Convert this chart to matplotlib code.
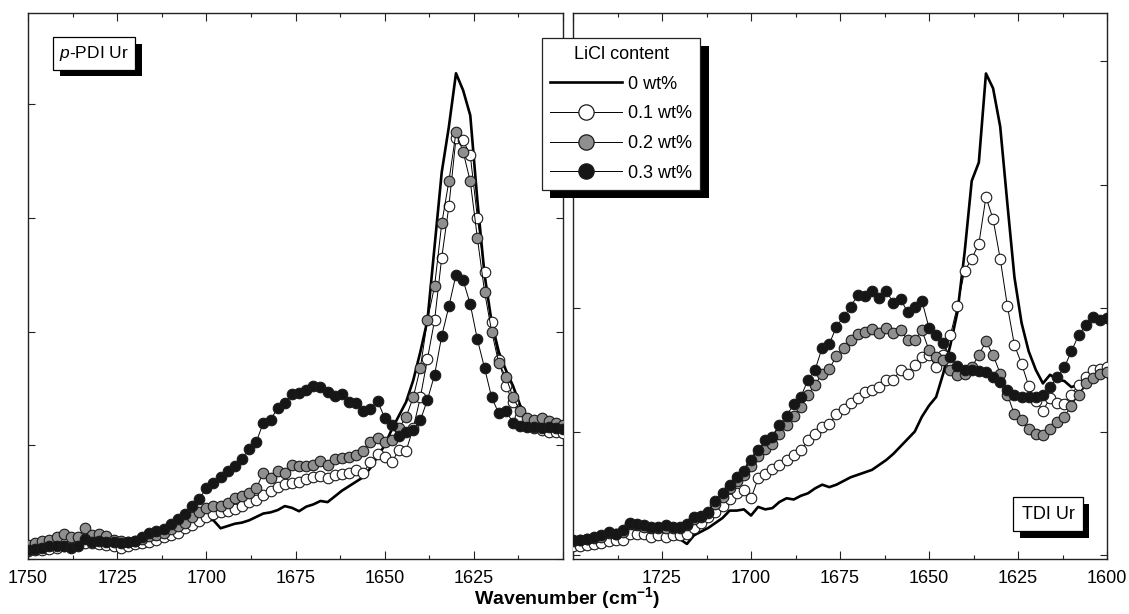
import numpy as np
import matplotlib
matplotlib.use('Agg')
import matplotlib.pyplot as plt
import matplotlib.patheffects as pe
from matplotlib.lines import Line2D
from matplotlib.ticker import MultipleLocator

plt.rcParams['font.family'] = ['Liberation Sans', 'DejaVu Sans']
plt.rcParams['mathtext.fontset'] = 'custom'
plt.rcParams['mathtext.rm'] = 'Liberation Sans'
plt.rcParams['mathtext.it'] = 'Liberation Sans:italic'
plt.rcParams['mathtext.bf'] = 'Liberation Sans:bold'

# wavenumber grid (cm-1), 1750 -> 1600
wavenumber = np.arange(1750, 1599, -2)

series_labels = ['0 wt%', '0.1 wt%', '0.2 wt%', '0.3 wt%']
marker_faces = ['white', '#8f8f8f', '#161616']

# p-PDI Ur (left panel)
ppdi_0 = [0.05, 0.06, 0.06, 0.07, 0.08, 0.09, 0.10, 0.11, 0.12, 0.12,
          0.11, 0.10, 0.09, 0.09, 0.10, 0.11, 0.12, 0.13, 0.15, 0.17,
          0.19, 0.21, 0.24, 0.28, 0.31, 0.35, 0.34, 0.27, 0.29, 0.31,
          0.32, 0.34, 0.37, 0.40, 0.41, 0.43, 0.465, 0.45, 0.42, 0.46,
          0.48, 0.51, 0.50, 0.55, 0.60, 0.64, 0.68, 0.72, 0.80, 0.90,
          1.00, 1.14, 1.26, 1.38, 1.57, 1.82, 2.10, 2.75, 3.40, 3.80,
          4.27, 4.12, 3.90, 3.15, 2.50, 2.08, 1.82, 1.66, 1.52, 1.35,
          1.25, 1.21, 1.19, 1.18, 1.17, 1.16]
ppdi_01 = [0.07, 0.08, 0.08, 0.09, 0.10, 0.11, 0.12, 0.13, 0.14, 0.14,
           0.13, 0.12, 0.11, 0.10, 0.11, 0.13, 0.14, 0.15, 0.17, 0.19,
           0.21, 0.23, 0.27, 0.30, 0.33, 0.37, 0.40, 0.41, 0.42, 0.44,
           0.47, 0.50, 0.52, 0.56, 0.60, 0.63, 0.655, 0.67, 0.68, 0.70,
           0.72, 0.73, 0.71, 0.74, 0.75, 0.76, 0.78, 0.76, 0.85, 0.92,
           0.90, 0.85, 0.96, 0.95, 1.15, 1.42, 1.76, 2.10, 2.65, 3.10,
           3.70, 3.68, 3.55, 3.00, 2.52, 2.08, 1.75, 1.52, 1.38, 1.25,
           1.18, 1.15, 1.13, 1.12, 1.12, 1.11]
ppdi_02 = [0.12, 0.14, 0.16, 0.17, 0.19, 0.22, 0.19, 0.19, 0.27, 0.21,
           0.22, 0.20, 0.17, 0.16, 0.15, 0.16, 0.18, 0.20, 0.21, 0.23,
           0.26, 0.29, 0.32, 0.37, 0.41, 0.45, 0.47, 0.47, 0.49, 0.54,
           0.55, 0.58, 0.62, 0.76, 0.71, 0.77, 0.76, 0.83, 0.82, 0.82,
           0.83, 0.86, 0.83, 0.88, 0.89, 0.90, 0.91, 0.95, 1.03, 1.06,
           1.03, 1.05, 1.15, 1.25, 1.42, 1.68, 2.10, 2.40, 2.95, 3.32,
           3.75, 3.58, 3.32, 2.82, 2.35, 2.00, 1.72, 1.60, 1.42, 1.30,
           1.24, 1.22, 1.24, 1.21, 1.20, 1.18]
ppdi_03 = [0.08, 0.09, 0.10, 0.11, 0.11, 0.11, 0.10, 0.11, 0.18, 0.15,
           0.16, 0.15, 0.15, 0.14, 0.15, 0.16, 0.19, 0.23, 0.245, 0.26,
           0.31, 0.35, 0.40, 0.47, 0.53, 0.62, 0.67, 0.72, 0.77, 0.82,
           0.88, 0.97, 1.03, 1.20, 1.22, 1.33, 1.37, 1.45, 1.46, 1.49,
           1.52, 1.51, 1.47, 1.43, 1.45, 1.38, 1.37, 1.30, 1.32, 1.39,
           1.24, 1.18, 1.08, 1.12, 1.13, 1.22, 1.40, 1.62, 1.96, 2.22,
           2.50, 2.45, 2.24, 1.93, 1.68, 1.42, 1.28, 1.30, 1.20, 1.17,
           1.16, 1.16, 1.15, 1.16, 1.15, 1.14]

# TDI Ur (right panel)
tdi_0 = [0.05, 0.05, 0.06, 0.07, 0.08, 0.09, 0.10, 0.10, 0.14, 0.14,
         0.14, 0.13, 0.13, 0.13, 0.13, 0.13, 0.09, 0.16, 0.19, 0.22,
         0.26, 0.30, 0.36, 0.36, 0.37, 0.32, 0.39, 0.37, 0.38, 0.43,
         0.46, 0.45, 0.48, 0.50, 0.54, 0.57, 0.55, 0.57, 0.60, 0.63,
         0.65, 0.67, 0.69, 0.73, 0.77, 0.82, 0.88, 0.94, 1.00, 1.12,
         1.21, 1.28, 1.47, 1.70, 1.97, 2.45, 3.03, 3.18, 3.90, 3.78,
         3.47, 2.85, 2.25, 1.88, 1.65, 1.50, 1.39, 1.46, 1.42, 1.41,
         1.36, 1.38, 1.40, 1.43, 1.46, 1.48]
tdi_01 = [0.07, 0.07, 0.08, 0.09, 0.10, 0.11, 0.12, 0.12, 0.17, 0.17,
          0.17, 0.15, 0.16, 0.15, 0.16, 0.16, 0.17, 0.22, 0.26, 0.31,
          0.35, 0.40, 0.45, 0.50, 0.53, 0.46, 0.62, 0.66, 0.70, 0.73,
          0.77, 0.81, 0.85, 0.93, 0.98, 1.04, 1.06, 1.14, 1.18, 1.23,
          1.27, 1.32, 1.34, 1.36, 1.42, 1.42, 1.50, 1.47, 1.54, 1.60,
          1.62, 1.52, 1.62, 1.78, 2.02, 2.30, 2.40, 2.52, 2.90, 2.72,
          2.40, 2.02, 1.70, 1.55, 1.37, 1.25, 1.17, 1.27, 1.23, 1.22,
          1.30, 1.38, 1.44, 1.50, 1.51, 1.52]
tdi_02 = [0.11, 0.12, 0.13, 0.14, 0.15, 0.18, 0.17, 0.19, 0.25, 0.24,
          0.23, 0.22, 0.22, 0.22, 0.22, 0.22, 0.24, 0.29, 0.31, 0.34,
          0.41, 0.47, 0.54, 0.60, 0.65, 0.72, 0.80, 0.86, 0.90, 0.98,
          1.05, 1.13, 1.20, 1.30, 1.38, 1.47, 1.51, 1.61, 1.68, 1.74,
          1.79, 1.81, 1.83, 1.80, 1.84, 1.80, 1.82, 1.74, 1.74, 1.82,
          1.66, 1.60, 1.58, 1.50, 1.46, 1.47, 1.52, 1.62, 1.73, 1.62,
          1.47, 1.30, 1.14, 1.09, 1.02, 0.98, 0.97, 1.02, 1.08, 1.12,
          1.21, 1.30, 1.39, 1.43, 1.47, 1.48]
tdi_03 = [0.12, 0.125, 0.13, 0.15, 0.16, 0.19, 0.17, 0.20, 0.26, 0.25,
          0.24, 0.23, 0.23, 0.24, 0.23, 0.23, 0.25, 0.31, 0.32, 0.35,
          0.44, 0.50, 0.57, 0.63, 0.68, 0.77, 0.85, 0.93, 0.96, 1.05,
          1.13, 1.22, 1.28, 1.42, 1.50, 1.68, 1.71, 1.85, 1.93, 2.01,
          2.11, 2.10, 2.14, 2.08, 2.14, 2.04, 2.07, 1.97, 2.01, 2.06,
          1.84, 1.78, 1.72, 1.60, 1.53, 1.50, 1.50, 1.49, 1.48, 1.44,
          1.40, 1.34, 1.30, 1.28, 1.28, 1.28, 1.30, 1.36, 1.44, 1.52,
          1.65, 1.78, 1.86, 1.93, 1.90, 1.92]

xtick_pos = [1750, 1725, 1700, 1675, 1650, 1625, 1600]
left_xticklabels = ['1750', '1725', '1700', '1675', '1650', '1625', '']
right_xticklabels = ['', '1725', '1700', '1675', '1650', '1625', '1600']

W, H = 1129, 614
fig = plt.figure(figsize=(W / 100, H / 100), dpi=100)
ax_l = fig.add_axes([28 / W, 1 - 559 / H, 535 / W, 546 / H])
ax_r = fig.add_axes([573 / W, 1 - 559 / H, 534 / W, 546 / H])

shadow = lambda d: [pe.SimplePatchShadow(offset=(d, -d), shadow_rgbFace='k', alpha=1.0), pe.Normal()]


def draw_panel(ax, solid, white, grey, black, ticklabels, ylim):
    ax.plot(wavenumber, solid, color='k', lw=1.9, zorder=2)
    for vals, face in zip((white, grey, black), marker_faces):
        ax.plot(wavenumber, vals, color='k', lw=0.7, marker='o', ms=7.6,
                mfc=face, mec='#1a1a1a', mew=0.8, zorder=3)
    ax.set_xticks(xtick_pos, labels=ticklabels)
    ax.xaxis.set_minor_locator(MultipleLocator(12.5))
    ax.set_xlim(1750, 1600)
    ax.set_ylim(*ylim)
    ax.yaxis.set_major_locator(MultipleLocator(1))
    ax.tick_params(which='both', direction='in', top=True, bottom=True,
                   left=True, right=True, labelleft=False, width=0.8,
                   color='#222222', labelsize=13, pad=8)
    ax.tick_params(which='major', length=6)
    ax.tick_params(which='minor', length=3)
    ax.tick_params(axis='y', length=5)
    for s in ax.spines.values():
        s.set_linewidth(1.0)
        s.set_color('#222222')


draw_panel(ax_l, ppdi_0, ppdi_01, ppdi_02, ppdi_03, left_xticklabels, (0, 4.8))
draw_panel(ax_r, tdi_0, tdi_01, tdi_02, tdi_03, right_xticklabels, (-0.032, 4.39))

t1 = ax_l.text(0.1234, 0.926, r'$\mathit{p}$-PDI Ur', transform=ax_l.transAxes,
               ha='center', va='center', fontsize=12.5, zorder=6,
               bbox=dict(boxstyle='square,pad=0.38', fc='white', ec='k', lw=0.9))
t2 = ax_r.text(0.8895, 0.0824, 'TDI Ur', transform=ax_r.transAxes,
               ha='center', va='center', fontsize=13, zorder=6,
               bbox=dict(boxstyle='square,pad=0.45', fc='white', ec='k', lw=0.9))
for t in (t1, t2):
    t.get_bbox_patch().set_path_effects(shadow(5))

handles = [Line2D([], [], color='k', lw=1.9)]
for face in marker_faces:
    handles.append(Line2D([], [], color='k', lw=0.7, marker='o', ms=11,
                          mfc=face, mec='#1a1a1a', mew=0.9))
leg = fig.legend(handles, series_labels, title='LiCl content', loc='upper left',
                 bbox_to_anchor=(541.7 / W, 1 - 38 / H), borderaxespad=0,
                 frameon=True, fancybox=False, framealpha=1, edgecolor='#222222',
                 fontsize=13, title_fontsize=13, handlelength=4.0,
                 handletextpad=0.35, labelspacing=0.7, borderpad=0.45)
leg.get_frame().set_linewidth(0.9)
leg.get_frame().set_path_effects(shadow(6))

fig.text(567 / W, 1 - 598 / H, r'Wavenumber (cm$^{\mathbf{-1}}$)',
         ha='center', va='center', fontsize=14, fontweight='bold')

fig.savefig('out.png', dpi=100)
